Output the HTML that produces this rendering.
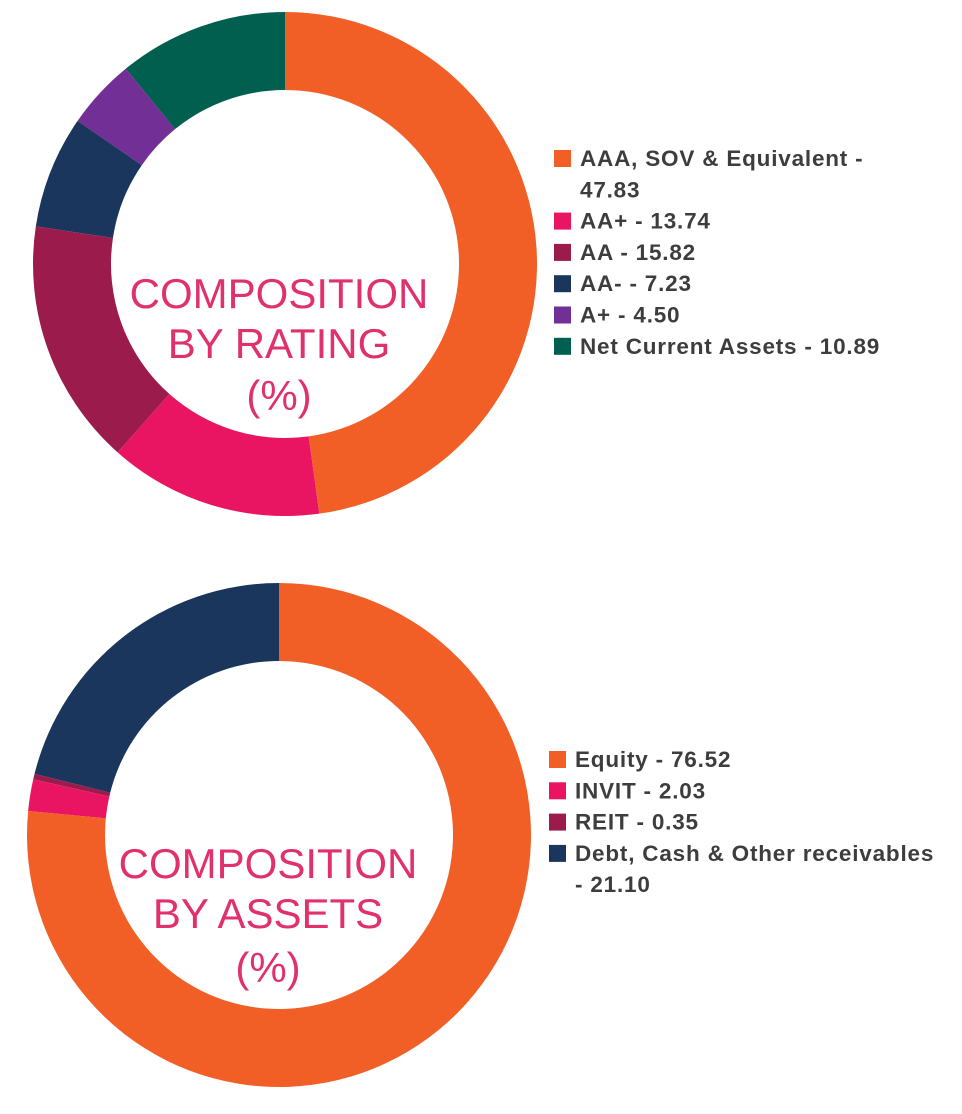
<!DOCTYPE html>
<html><head><meta charset="utf-8">
<style>
body{margin:0;width:962px;height:1114px;background:#fff;overflow:hidden;font-family:"Liberation Sans",sans-serif;}
svg{position:absolute;left:0;top:0;}
.leg{font-weight:bold;fill:#3d3d3d;font-size:22.5px;letter-spacing:0.8px;}
.ttl{fill:#e0306e;font-size:42px;text-anchor:middle;}
</style></head>
<body>
<svg id="chart" width="962" height="1114">
<text class="ttl" x="279" y="308">COMPOSITION</text>
<text class="ttl" x="279" y="358">BY RATING</text>
<text class="ttl" x="279" y="410">(%)</text>
<text class="ttl" x="268" y="878">COMPOSITION</text>
<text class="ttl" x="268" y="928">BY ASSETS</text>
<text class="ttl" x="268" y="982">(%)</text>
</svg>
<script>
const ratingLabels=["AAA, SOV & Equivalent","AA+","AA","AA-","A+","Net Current Assets"];
const ratingValues=[47.83,13.74,15.82,7.23,4.50,10.89];
const ratingColors=["#f15f27","#e91563","#9b1b4d","#1b365d","#722f96","#005f4e"];
const assetLabels=["Equity","INVIT","REIT","Debt, Cash & Other receivables"];
const assetValues=[76.52,2.03,0.35,21.10];
const assetColors=["#f15f27","#e91563","#9b1b4d","#1b365d"];
const NS="http://www.w3.org/2000/svg";
const svg=document.getElementById('chart');
function pt(cx,cy,r,a){return [cx+r*Math.sin(a),cy-r*Math.cos(a)];}
function donut(cx,cy,R,r,vals,cols,name){
  const tot=vals.reduce((a,b)=>a+b,0);let a0=0;
  vals.forEach((v,i)=>{
    const a1=a0+v/tot*2*Math.PI;const lg=(a1-a0)>Math.PI?1:0;
    const p1=pt(cx,cy,R,a0),p2=pt(cx,cy,R,a1),p3=pt(cx,cy,r,a1),p4=pt(cx,cy,r,a0);
    const p=document.createElementNS(NS,'path');
    p.setAttribute('d',`M${p1}A${R},${R} 0 ${lg} 1 ${p2}L${p3}A${r},${r} 0 ${lg} 0 ${p4}Z`);
    p.setAttribute('fill',cols[i]);
    
    
    svg.insertBefore(p,svg.firstChild);a0=a1;
  });
}
function legend(x,ys,labels,vals,cols,name,wrap,wrapMode){
  let row=0;
  labels.forEach((l,i)=>{
    const y=ys+row*31.3;
    const s=document.createElementNS(NS,'rect');
    s.setAttribute('x',x);s.setAttribute('y',y-15);s.setAttribute('width',17);s.setAttribute('height',17);s.setAttribute('fill',cols[i]);
    
    
    svg.appendChild(s);
    const full=l+' - '+vals[i].toFixed(2);
    let lines=[full];
    if(wrap.includes(i)) lines = wrapMode==='a' ? [l+' -',vals[i].toFixed(2)] : [l,'- '+vals[i].toFixed(2)];
    lines.forEach((t,k)=>{
      const tx=document.createElementNS(NS,'text');
      tx.setAttribute('class','leg');tx.setAttribute('x',x+26);tx.setAttribute('y',y+(k*31.3)+1);
      tx.textContent=t;
      
      
      svg.appendChild(tx);
    });
    row+=lines.length;
  });
}
donut(285,264,252,174,ratingValues,ratingColors,'rating');
donut(279,835,252,174,assetValues,assetColors,'assets');
legend(554,165,ratingLabels,ratingValues,ratingColors,'rating',[0],'a');
legend(549,766,assetLabels,assetValues,assetColors,'assets',[3],'b');
</script>
</body></html>
